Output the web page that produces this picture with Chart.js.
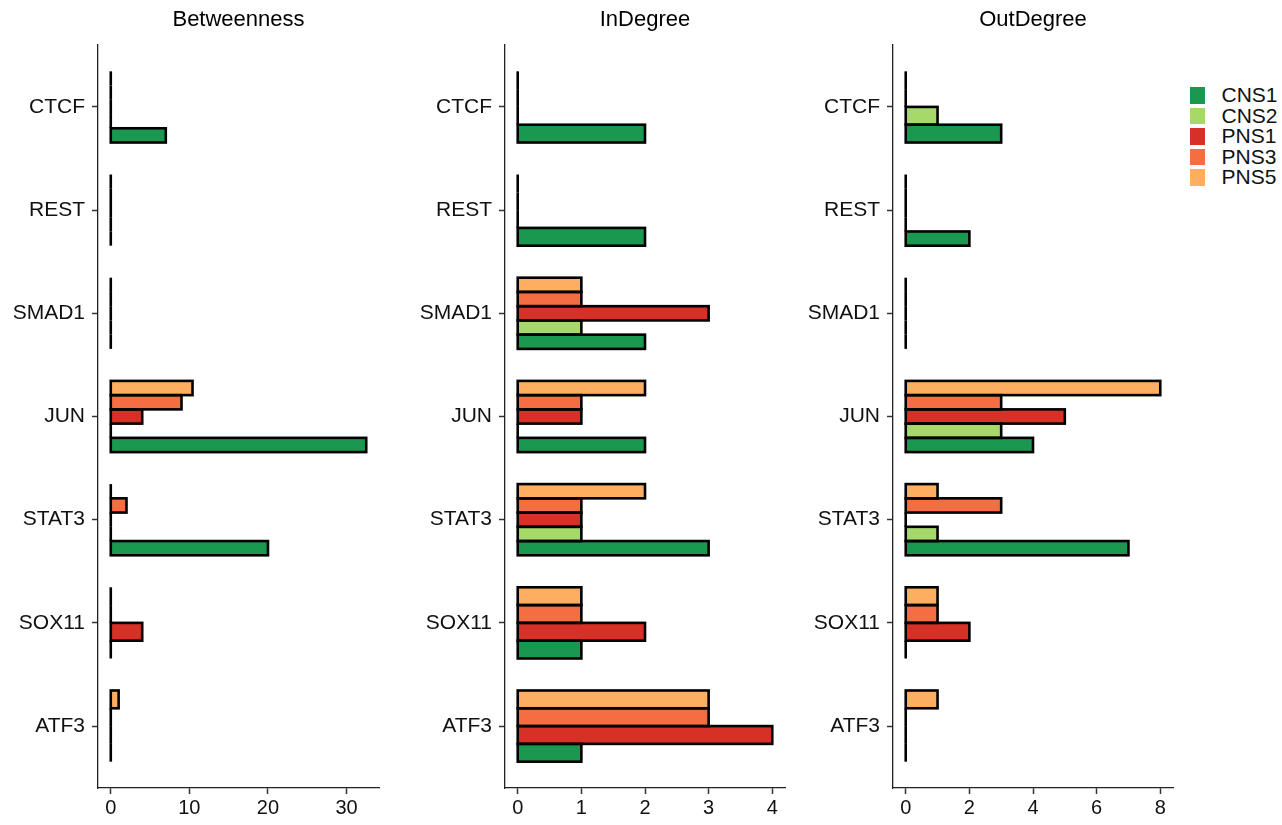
<!DOCTYPE html>
<html>
<head>
<meta charset="utf-8">
<script src="https://cdn.jsdelivr.net/npm/chart.js@4.4.1/dist/chart.umd.min.js"></script>
<style>
  html, body { margin: 0; padding: 0; background: #ffffff; }
  #wrap { position: relative; width: 1282px; height: 825px; overflow: hidden; background: #fff; }
  canvas { position: absolute; top: 0; }
  #legend { position: absolute; left: 1190px; top: 85px; font-family: "Liberation Sans", Arial, sans-serif; font-size: 21px; color: #111; }
  .row { position: relative; height: 20.6px; }
  .key { position: absolute; left: 0; top: 2px; width: 14.5px; height: 16.5px; }
  .lab { position: absolute; left: 31.5px; top: -1px; line-height: 22px; white-space: nowrap; }
</style>
</head>
<body>
<div id="wrap">
  <canvas id="c1" width="400" height="825" style="left:0px"></canvas>
  <canvas id="c2" width="400" height="825" style="left:400px"></canvas>
  <canvas id="c3" width="390" height="825" style="left:800px"></canvas>
  <div id="legend"></div>
</div>
<script>
// ---- data ----
const categories = ["CTCF", "REST", "SMAD1", "JUN", "STAT3", "SOX11", "ATF3"];
const seriesNames = ["CNS1", "CNS2", "PNS1", "PNS3", "PNS5"];
const seriesColors = ["#1a9850", "#a6d96a", "#d73027", "#f46d43", "#fdae61"];

// null = network not present for that gene (no bar slot)
const betweennessCNS1 = [7, 0, 0, 32.5, 20, 0, 0];
const betweennessCNS2 = [0, 0, 0, 0, 0, null, null];
const betweennessPNS1 = [0, 0, 0, 4, 0, 4, 0];
const betweennessPNS3 = [0, 0, 0, 9, 2, 0, 0];
const betweennessPNS5 = [0, 0, 0, 10.4, 0, 0, 1];

const inDegreeCNS1 = [2, 2, 2, 2, 3, 1, 1];
const inDegreeCNS2 = [0, 0, 1, 0, 1, null, null];
const inDegreePNS1 = [0, 0, 3, 1, 1, 2, 4];
const inDegreePNS3 = [null, null, 1, 1, 1, 1, 3];
const inDegreePNS5 = [0, 0, 1, 2, 2, 1, 3];

const outDegreeCNS1 = [3, 2, 0, 4, 7, 0, 0];
const outDegreeCNS2 = [1, 0, 0, 3, 1, null, null];
const outDegreePNS1 = [0, 0, 0, 5, 0, 2, 0];
const outDegreePNS3 = [null, 0, 0, 3, 3, 1, 0];
const outDegreePNS5 = [0, 0, 0, 8, 1, 1, 1];

const betweennessTicks = [0, 10, 20, 30];
const inDegreeTicks = [0, 1, 2, 3, 4];
const outDegreeTicks = [0, 2, 4, 6, 8];

const panelTitles = ["Betweenness", "InDegree", "OutDegree"];

// ---- drawing ----
const FONT = "'Liberation Sans', Arial, Helvetica, sans-serif";

const outlinePlugin = {
  id: 'outline',
  afterDatasetsDraw(chart) {
    const ctx = chart.ctx;
    const zero = chart.scales.x.getPixelForValue(0);
    ctx.save();
    ctx.strokeStyle = '#000';
    ctx.lineWidth = 2.6;
    chart.data.datasets.forEach((ds, di) => {
      const meta = chart.getDatasetMeta(di);
      meta.data.forEach((el, i) => {
        const v = ds.data[i];
        if (v === null || v === undefined) return;
        const p = el.getProps(['x', 'y', 'height'], true);
        const top = p.y - p.height / 2;
        if (v === 0) {
          ctx.beginPath();
          ctx.moveTo(zero, top);
          ctx.lineTo(zero, top + p.height);
          ctx.stroke();
        } else {
          ctx.strokeRect(zero, top, p.x - zero, p.height);
        }
      });
    });
    ctx.restore();
  }
};

function makePanel(id, title, values, ticksArr, xmin, xmax, yWidth, padRight) {
  // datasets in reverse order so PNS5 sits at the top of each group, CNS1 at the bottom
  const datasets = [];
  for (let s = seriesNames.length - 1; s >= 0; s--) {
    datasets.push({
      label: seriesNames[s],
      data: values[s],
      backgroundColor: seriesColors[s],
      borderWidth: 0,
      skipNull: true,
      categoryPercentage: 0.69,
      barPercentage: 1.0
    });
  }
  return new Chart(document.getElementById(id), {
    type: 'bar',
    data: { labels: categories, datasets },
    plugins: [outlinePlugin],
    options: {
      indexAxis: 'y',
      responsive: false,
      devicePixelRatio: 1,
      animation: false,
      layout: { padding: { left: 0, right: padRight, top: 0, bottom: 0 } },
      plugins: {
        legend: { display: false },
        tooltip: { enabled: false },
        title: {
          display: true, text: title, fullSize: false, color: '#000',
          font: { family: FONT, size: 22, weight: 'normal' },
          padding: { top: 7, bottom: 11.6 }
        }
      },
      scales: {
        y: {
          type: 'category',
          offset: false,
          afterBuildTicks(axis) {
            axis._startValue = -0.6;
            axis._valueRange = categories.length - 1 + 1.2;
          },
          afterFit(axis) { axis.width = yWidth; },
          grid: { display: true, drawOnChartArea: false, drawTicks: true, tickLength: 6, tickWidth: 1.5, tickColor: '#333', offset: false },
          border: { display: true, color: '#222', width: 1.3 },
          ticks: { color: '#111', font: { family: FONT, size: 21 }, padding: 7, autoSkip: false }
        },
        x: {
          type: 'linear',
          min: xmin, max: xmax,
          afterBuildTicks(axis) { axis.ticks = ticksArr.map(v => ({ value: v })); },
          afterFit(axis) { axis.height = 37; },
          grid: { display: true, drawOnChartArea: false, drawTicks: true, tickLength: 6, tickWidth: 1.5, tickColor: '#333' },
          border: { display: true, color: '#222', width: 1.3 },
          ticks: { color: '#111', font: { family: FONT, size: 20 }, padding: 2, maxRotation: 0 }
        }
      }
    }
  });
}

makePanel('c1', panelTitles[0],
  [betweennessCNS1, betweennessCNS2, betweennessPNS1, betweennessPNS3, betweennessPNS5],
  betweennessTicks, -1.625, 34.125, 98, 21);
makePanel('c2', panelTitles[1],
  [inDegreeCNS1, inDegreeCNS2, inDegreePNS1, inDegreePNS3, inDegreePNS5],
  inDegreeTicks, -0.2, 4.2, 105, 15);
makePanel('c3', panelTitles[2],
  [outDegreeCNS1, outDegreeCNS2, outDegreePNS1, outDegreePNS3, outDegreePNS5],
  outDegreeTicks, -0.4, 8.4, 93, 17);

// legend
const legend = document.getElementById('legend');
seriesNames.forEach((name, i) => {
  const row = document.createElement('div');
  row.className = 'row';
  const key = document.createElement('div');
  key.className = 'key';
  key.style.background = seriesColors[i];
  const lab = document.createElement('div');
  lab.className = 'lab';
  lab.textContent = name;
  row.appendChild(key);
  row.appendChild(lab);
  legend.appendChild(row);
});
</script>
</body>
</html>
